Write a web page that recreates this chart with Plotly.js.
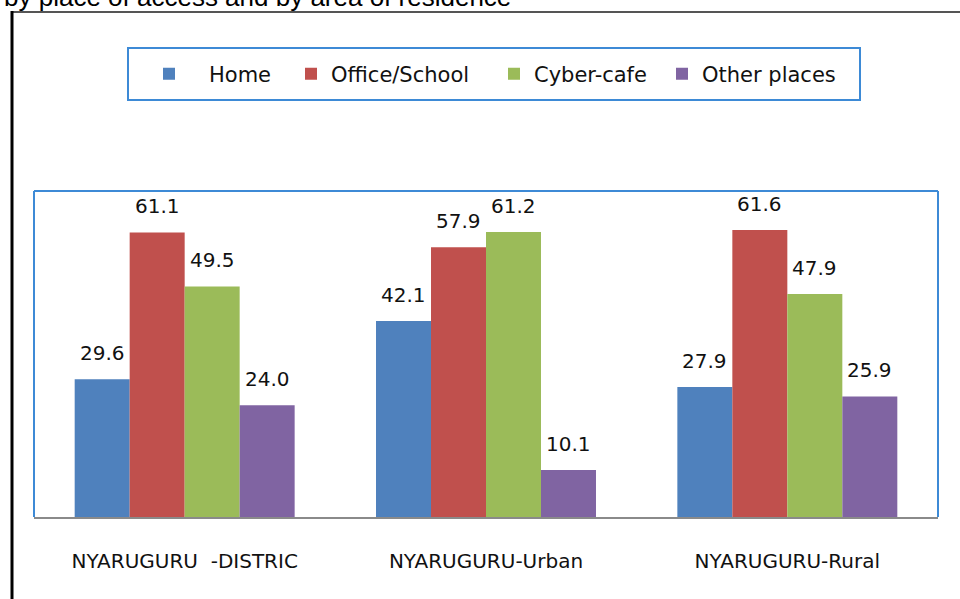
<!DOCTYPE html>
<html>
<head>
<meta charset="utf-8">
<script src="https://cdn.plot.ly/plotly-3.0.1.min.js"></script>
<style>html,body{margin:0;padding:0;background:#fff;}#chart{width:960px;height:599px;}</style>
</head>
<body>
<div id="chart"></div>
<script>
const categories = ["NYARUGURU  -DISTRIC", "NYARUGURU-Urban", "NYARUGURU-Rural"];
const seriesNames = ["&nbsp;&nbsp;&nbsp;Home", "Office/School", "Cyber-cafe", "Other places"];
const home = [29.6, 42.1, 27.9];
const officeSchool = [61.1, 57.9, 61.6];
const cyberCafe = [49.5, 61.2, 47.9];
const otherPlaces = [24.0, 10.1, 25.9];
const colors = ["#4F81BD", "#C0504D", "#9BBB59", "#8064A2"];
const titleText = "by place of access and by area of residence";

const seriesValues = [home, officeSchool, cyberCafe, otherPlaces];
const font = "DejaVu Sans, Verdana, sans-serif";
const legendWidths = [97, 158, 123, 140];

const W = 960, H = 599, mL = 34, mR = 22, mT = 191, mB = 82;
const pw = W - mL - mR, ph = H - mT - mB;
const px = v => (v - mL) / pw;
const py = v => (H - mB - v) / ph;
const bargap = 0.27;
const barPx = pw / categories.length * (1 - bargap) / seriesValues.length;

const traces = seriesValues.map((vals, i) => ({
  type: "bar",
  name: seriesNames[i],
  legendwidth: legendWidths[i],
  x: categories,
  y: vals,
  marker: {color: colors[i], line: {width: 0}},
  cliponaxis: false,
  hoverinfo: "x+y"
}));

const labelAnnotations = [];
seriesValues.forEach((vals, i) => {
  vals.forEach((v, j) => {
    labelAnnotations.push({
      xref: "x", yref: "y", x: categories[j], y: v,
      xanchor: "center", yanchor: "bottom",
      xshift: (i - (seriesValues.length - 1) / 2) * barPx,
      yshift: 12,
      text: v.toFixed(1), showarrow: false,
      font: {family: font, size: 20, color: "#111"}
    });
  });
});

const layout = {
  width: W, height: H,
  margin: {l: mL, r: mR, t: mT, b: mB, pad: 0},
  paper_bgcolor: "#ffffff",
  plot_bgcolor: "#ffffff",
  barmode: "group",
  bargap: bargap,
  bargroupgap: 0,
  showlegend: true,
  legend: {
    orientation: "h",
    x: px(149), xanchor: "left",
    y: py(74), yanchor: "middle",
    font: {family: font, size: 21, color: "#111"},
    bgcolor: "rgba(0,0,0,0)",
    borderwidth: 0
  },
  xaxis: {
    type: "category",
    showgrid: false, zeroline: false,
    showline: true, linecolor: "#8a8a8a", linewidth: 2,
    ticks: "", ticklabelstandoff: 25,
    tickfont: {family: font, size: 20, color: "#111"}
  },
  yaxis: {
    range: [0, 70],
    showgrid: false, zeroline: false, showline: false,
    showticklabels: false, ticks: ""
  },
  shapes: [
    {type: "line", xref: "paper", yref: "paper", x0: 0, x1: 0, y0: 0, y1: 1, line: {color: "#3d8ad6", width: 2}},
    {type: "line", xref: "paper", yref: "paper", x0: 0, x1: 1, y0: 1, y1: 1, line: {color: "#3d8ad6", width: 2}},
    {type: "line", xref: "paper", yref: "paper", x0: 1, x1: 1, y0: 0, y1: 1, line: {color: "#3d8ad6", width: 2}},
    {type: "rect", xref: "paper", yref: "paper", x0: px(128), x1: px(860), y0: py(100), y1: py(48), line: {color: "#3d8ad6", width: 2}, fillcolor: "rgba(0,0,0,0)"},
    {type: "line", xref: "paper", yref: "paper", x0: px(12), x1: px(962), y0: py(12), y1: py(12), line: {color: "#555555", width: 2}},
    {type: "line", xref: "paper", yref: "paper", x0: px(12), x1: px(12), y0: py(11), y1: py(602), line: {color: "#000000", width: 3}}
  ],
  annotations: [
    {xref: "paper", yref: "paper", x: px(513), xanchor: "right", y: py(14), yanchor: "bottom",
     text: titleText, showarrow: false,
     font: {family: "Liberation Sans, Arial, sans-serif", size: 26, color: "#000"}}
  ].concat(labelAnnotations)
};

Plotly.newPlot("chart", traces, layout, {displayModeBar: false, staticPlot: true});
</script>
</body>
</html>
